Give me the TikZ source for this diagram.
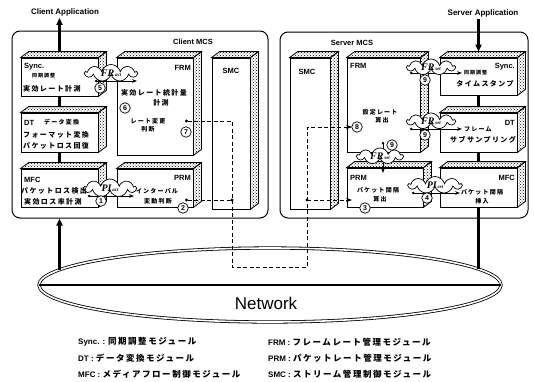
\documentclass[tikz,border=0pt]{standalone}
\usepackage{fontspec}
\setmainfont{Liberation Sans}
\newfontfamily\jpw{Noto Sans CJK JP}[LetterSpace=20]
\newfontfamily\jplg{Noto Sans CJK JP}[LetterSpace=18]
\newfontfamily\varfont{Liberation Serif}
\usetikzlibrary{arrows.meta, shapes.geometric, shapes.symbols, patterns}

\newcommand{\varlbl}[2]{{\varfont\bfseries\itshape #1}{\varfont\bfseries\itshape\fontsize{5}{5}\selectfont\,#2}}

\begin{document}
\begin{tikzpicture}[x=1pt, y=-1pt,
  mcs/.style={draw, rounded corners=8pt, line width=1pt, inner sep=0pt},
  module/.style={draw, line width=0.8pt, fill=white, inner sep=0pt},
  face/.style={draw, line width=0.8pt, pattern=crosshatch dots},
  link/.style={line width=2.2pt},
  flow/.style={link, -{Triangle[length=7pt, width=6pt]}},
  info/.style={line width=0.9pt, {Circle[length=2.5pt]}-{Stealth[length=5pt]}},
  ctrl/.style={line width=1pt, dash pattern=on 4pt off 2.5pt},
  junction/.style={circle, fill, inner sep=0pt, minimum size=3.2pt},
  var/.style={cloud, cloud puffs=9, cloud ignores aspect, draw, fill=white, line width=0.7pt,
              inner sep=0pt},
  stepno/.style={circle, draw, fill=white, line width=0.7pt, inner sep=0pt, minimum size=10.5pt,
                 font=\bfseries\fontsize{7}{7}\selectfont},
  lbl/.style={font=\bfseries\fontsize{7.5}{8}\selectfont, inner sep=0pt},
  jtxt/.style={font=\jpw\bfseries\fontsize{7}{8}\selectfont, inner sep=0pt},
  jsm/.style={font=\jpw\bfseries\fontsize{6}{7}\selectfont, inner sep=0pt},
  jxs/.style={font=\jpw\bfseries\fontsize{5}{6}\selectfont, inner sep=0pt},
  legend/.style={anchor=west, inner sep=0pt, font=\bfseries\fontsize{8}{9}\selectfont},
]
\useasboundingbox (0,0) rectangle (534,381);

% MCS frames
\node[mcs, minimum width=256, minimum height=187] (cmcs) at (140,124.5) {};
\node[mcs, minimum width=248, minimum height=186] (smcs) at (404,125) {};
\node[lbl] (cmcst) at (193,42) {Client MCS};
\node[lbl] (smcst) at (352,43) {Server MCS};

% Client modules
\node[module, minimum width=77, minimum height=38] (csync) at (59.5,77) {};
\node[module, minimum width=77, minimum height=39] (cdt) at (59.5,132.5) {};
\node[module, minimum width=77, minimum height=38] (cmfc) at (59.5,188) {};
\node[module, minimum width=76, minimum height=97] (cfrm) at (155,106.5) {};
\node[module, minimum width=76, minimum height=38] (cprm) at (155,188) {};
\node[module, minimum width=38, minimum height=151] (csmc) at (231,133.5) {};

% Server modules
\node[module, minimum width=40, minimum height=151] (ssmc) at (310,133.5) {};
\node[module, minimum width=73, minimum height=94] (sfrm) at (383.5,105) {};
\node[module, minimum width=77, minimum height=37] (ssync) at (478.5,76.5) {};
\node[module, minimum width=77, minimum height=39] (sdt) at (478.5,132.5) {};
\node[module, minimum width=76, minimum height=39] (sprm) at (385,187.5) {};
\node[module, minimum width=77, minimum height=39] (smfc) at (478.5,187.5) {};

% hatched top and side faces
\foreach \m in {csync,cdt,cmfc,cfrm,cprm,csmc,ssmc,sfrm,ssync,sdt,sprm,smfc} {
  \draw[face] (\m.north west) -- ++(8,-6) -- ([shift={(8,-6)}]\m.north east) -- (\m.north east) -- cycle;
  \draw[face] (\m.north east) -- ++(8,-6) -- ([shift={(8,-6)}]\m.south east) -- (\m.south east) -- cycle;
}

% Network
\node[draw, ellipse, double, double distance=1.6pt, line width=0.8pt,
      minimum width=462, minimum height=74] (net) at (270,285) {};
\draw[link] (net.west) -- (net.east);
\node[font=\fontsize{17}{17}\selectfont, inner sep=0pt] (nett) at (266,303) {Network};
\coordinate (cin) at (59.5,270);
\coordinate (sout) at (478.5,269);

% Applications and media flow
\node[lbl, font=\bfseries\fontsize{8}{9}\selectfont] (capp) at (65,12) {Client Application};
\node[lbl, font=\bfseries\fontsize{8}{9}\selectfont] (sapp) at (483,13) {Server Application};
\draw[flow] ([yshift=6pt]csync.north) -- ([yshift=-2pt]csync.north |- capp.south);
\draw[flow] ([yshift=-2pt]ssync.north |- sapp.south) -- ([yshift=6pt]ssync.north);
\draw[link] (csync.south) -- ([yshift=6pt]cdt.north);
\draw[link] (cdt.south) -- ([yshift=6pt]cmfc.north);
\draw[link] (ssync.south) -- ([yshift=6pt]sdt.north);
\draw[link] (sdt.south) -- ([yshift=6pt]smfc.north);
\draw[flow] (cin) -- (cin |- cmcs.south);
\draw[link] (smfc.south) -- (sout);

% Measured / set values
\coordinate (a5) at (95,81);   \coordinate (b5) at (137,81);
\coordinate (a1) at (88,196);  \coordinate (b1) at (134,196);
\coordinate (a9) at (410,73);  \coordinate (b9) at (462,73);
\coordinate (a9m) at (410,129); \coordinate (b9m) at (462,129);
\coordinate (a9l) at (383,142); \coordinate (b9l) at (383,173);
\coordinate (a4) at (412,193); \coordinate (b4) at (460,193);
\draw[info] (a5) -- (b5);
\draw[info] (a1) -- (b1);
\draw[info] (a9) -- (b9);
\draw[info] (a9m) -- (b9m);
\draw[info] (a9l) -- (b9l);
\draw[info] (a4) -- (b4);

% Feedback through SMC and network
\coordinate (d7) at (185,121);
\coordinate (d2) at (185,200);
\coordinate (d8) at (352,127);
\coordinate (d3) at (352,200);
\coordinate (cbus) at (232,267);
\coordinate (sbus) at (307,267);
\draw[ctrl, {Circle[length=3pt]}-{Stealth[length=6pt]}] (d7) -| (cbus) -- (sbus) |- (d8);
\draw[ctrl, {Circle[length=3pt]}-] (d2) -- (d2 -| cbus) node[junction] (cj) {};
\draw[ctrl, -{Stealth[length=6pt]}] (d3 -| sbus) node[junction] (sj) {} -- (d3);

% Clouds
\node[var, minimum width=52, minimum height=17] (cfr) at (111,73) {\varlbl{FR}{act}};
\node[var, minimum width=52, minimum height=18] (cpi) at (110,188) {\varlbl{PI}{act}};
\node[var, minimum width=48, minimum height=16] (sfr1) at (431,67) {\varlbl{FR}{set}};
\node[var, minimum width=48, minimum height=16] (sfr2) at (431,121) {\varlbl{FR}{set}};
\node[var, minimum width=46, minimum height=15] (sfr3) at (380,156) {\varlbl{FR}{set}};
\node[var, minimum width=53, minimum height=17] (spi) at (435,185) {\varlbl{PI}{set}};

% Step numbers
\node[stepno] (n1) at (101,201) {1};
\node[stepno] (n2) at (183,208) {2};
\node[stepno] (n3) at (365,208) {3};
\node[stepno] (n4) at (427,198) {4};
\node[stepno] (n5) at (100,88) {5};
\node[stepno] (n6) at (125,108) {6};
\node[stepno] (n7) at (186,132) {7};
\node[stepno] (n8) at (357,127) {8};
\node[stepno] (n9a) at (425,80) {9};
\node[stepno] (n9b) at (425,135) {9};
\node[stepno] (n9c) at (392,145) {9};

% Client module texts
\node[lbl, anchor=west] (csync1) at (24,67) {Sync.};
\node[jxs, anchor=west] (csync2) at (32,76) {同期調整};
\node[jtxt, anchor=west] (csync3) at (23,89) {実効レート計測};
\node[lbl, anchor=west] (cdt1) at (24,123) {DT};
\node[jsm, anchor=west] (cdt2) at (44,122) {データ変換};
\node[jtxt, anchor=west] (cdt3) at (23,135) {フォーマット変換};
\node[jtxt, anchor=west] (cdt4) at (23,146) {パケットロス回復};
\node[lbl, anchor=west] (cmfc1) at (24,180) {MFC};
\node[jtxt, anchor=west] (cmfc2) at (21,191) {パケットロス検出};
\node[jtxt, anchor=west] (cmfc3) at (24,202) {実効ロス率計測};
\node[lbl, anchor=east] (cfrm1) at (191,68) {FRM};
\node[jtxt] (cfrm2) at (154,93) {実効レート統計量};
\node[jtxt] (cfrm3) at (161,103) {計測};
\node[jsm] (cfrm4) at (148,121) {レート変更};
\node[jsm] (cfrm5) at (148,129) {判断};
\node[lbl, anchor=east] (cprm1) at (191,178) {PRM};
\node[jsm] (cprm2) at (157,191) {インターバル};
\node[jsm] (cprm3) at (158,201) {変動判断};
\node[lbl] (csmc1) at (231,71) {SMC};

% Server module texts
\node[lbl] (ssmc1) at (307,72) {SMC};
\node[lbl, anchor=west] (sfrm1) at (350,66) {FRM};
\node[jsm] (sfrm2) at (380,112) {設定レート};
\node[jsm] (sfrm3) at (382,120) {算出};
\node[lbl, anchor=east] (ssync1) at (515,67) {Sync.};
\node[jxs, anchor=west] (ssync2) at (464,73) {同期調整};
\node[jtxt] (ssync3) at (485,84) {タイムスタンプ};
\node[lbl, anchor=east] (sdt1) at (515,123) {DT};
\node[jsm, anchor=west] (sdt2) at (464,129) {フレーム};
\node[jtxt] (sdt3) at (483,140) {サブサンプリング};
\node[lbl, anchor=west] (sprm1) at (350,178) {PRM};
\node[jsm] (sprm2) at (378,190) {パケット間隔};
\node[jsm] (sprm3) at (380,199) {算出};
\node[lbl, anchor=east] (smfc1) at (515,178) {MFC};
\node[jsm] (smfc2) at (482,192) {パケット間隔};
\node[jsm] (smfc3) at (482,201) {挿入};

% Legend
\node[legend] (lg1) at (78,342) {Sync. : {\jplg\fontsize{8.5}{9}\selectfont 同期調整モジュール}};
\node[legend] (lg2) at (78,358) {DT : {\jplg\fontsize{8.5}{9}\selectfont データ変換モジュール}};
\node[legend] (lg3) at (78,374) {MFC : {\jplg\fontsize{8.5}{9}\selectfont メディアフロー制御モジュール}};
\node[legend] (lg4) at (268,342) {FRM : {\jplg\fontsize{8.5}{9}\selectfont フレームレート管理モジュール}};
\node[legend] (lg5) at (268,358) {PRM : {\jplg\fontsize{8.5}{9}\selectfont パケットレート管理モジュール}};
\node[legend] (lg6) at (268,374) {SMC : {\jplg\fontsize{8.5}{9}\selectfont ストリーム管理制御モジュール}};
\end{tikzpicture}
\end{document}
